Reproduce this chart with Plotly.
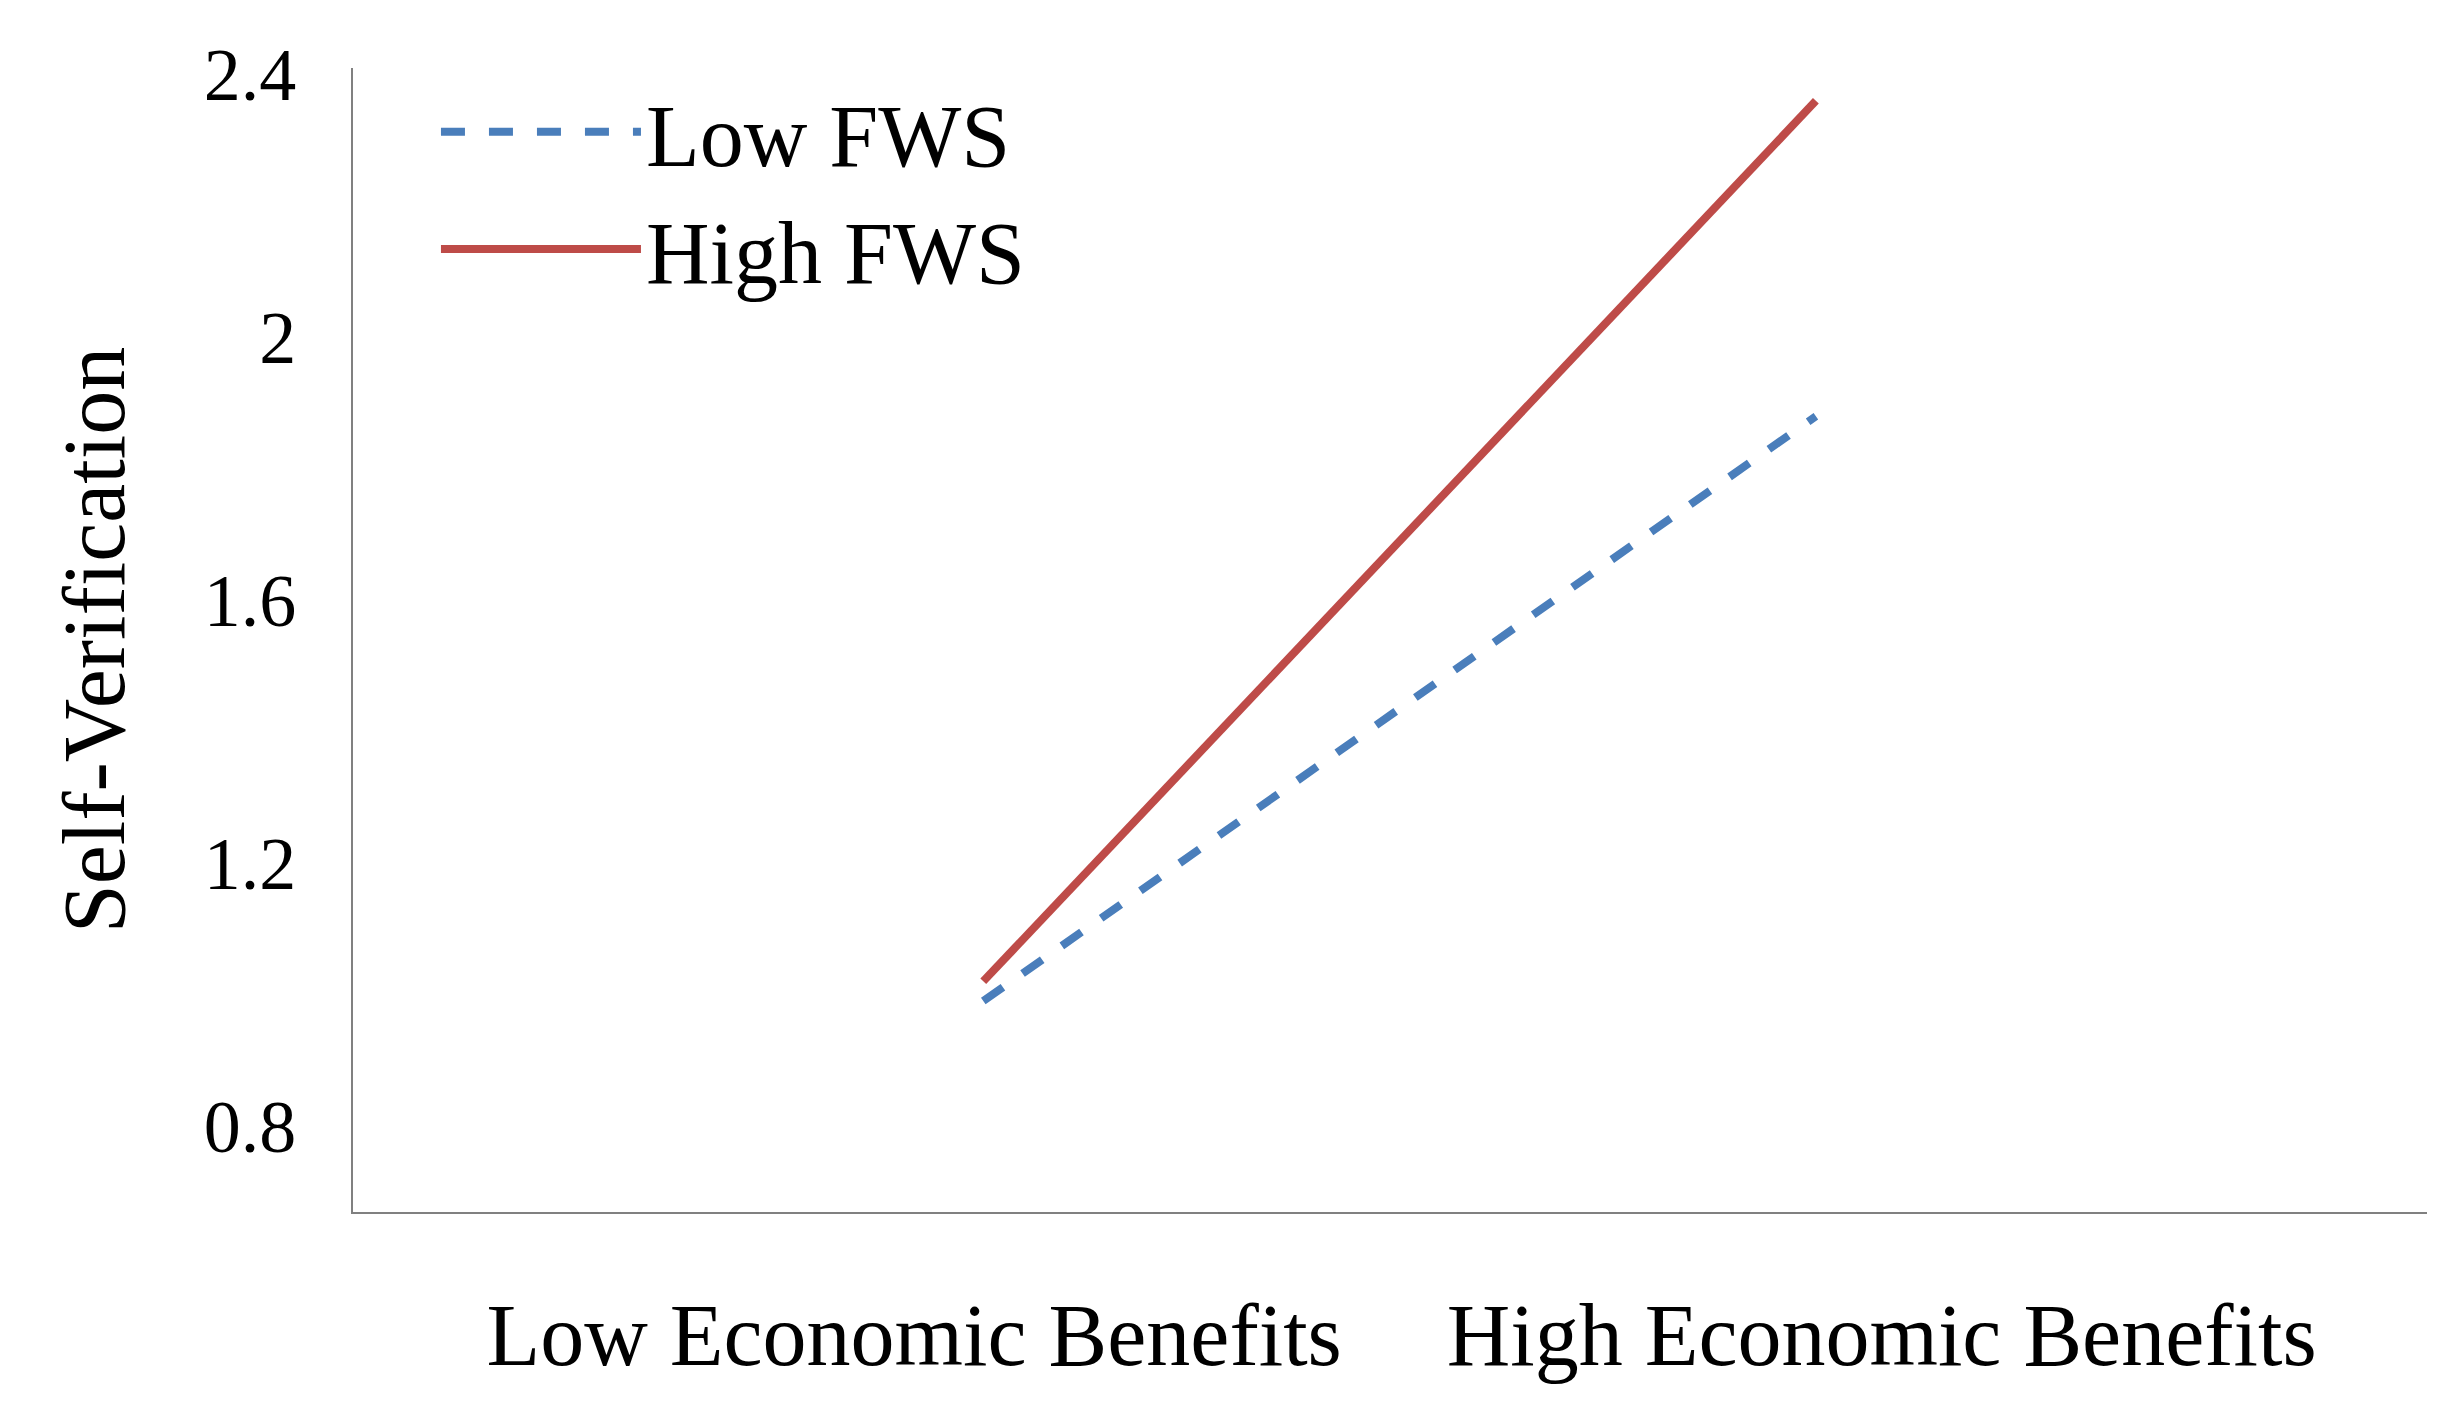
import plotly.graph_objects as go

categories = ["Low Economic Benefits", "High Economic Benefits"]
low_fws = [0.99, 1.88]
high_fws = [1.02, 2.36]

x_pos = [0, 1]
font = "Liberation Serif"

fig = go.Figure()
fig.add_trace(go.Scatter(x=x_pos, y=low_fws, mode="lines", name="Low FWS",
                         line=dict(color="#4a7ebb", width=8, dash="dash")))
fig.add_trace(go.Scatter(x=x_pos, y=high_fws, mode="lines", name="High FWS",
                         line=dict(color="#be4b48", width=8)))

fig.update_layout(
    width=2446, height=1409,
    margin=dict(l=345, r=27, t=60, b=205),
    plot_bgcolor="white", paper_bgcolor="white",
    font=dict(family=font, size=74, color="black"),
    legend=dict(x=0.04, y=1.0, xanchor="left", yanchor="top",
                font=dict(size=88), bgcolor="rgba(0,0,0,0)",
                itemwidth=200, tracegroupgap=20),
)
fig.update_xaxes(range=[-0.757, 1.734], tickvals=[-0.083, 1.079], ticktext=categories,
                 showgrid=False, zeroline=False, showline=True, linecolor="#808080",
                 linewidth=2, ticks="", tickfont=dict(size=88), ticklabelstandoff=45)
fig.update_yaxes(range=[0.669, 2.41], tickvals=[0.8, 1.2, 1.6, 2.0, 2.4],
                 ticktext=["0.8", "1.2", "1.6", "2", "2.4"],
                 showgrid=False, zeroline=False, showline=True, linecolor="#808080",
                 linewidth=2, ticks="", tickfont=dict(size=74), ticklabelstandoff=40,
                 title=dict(text="Self-Verification", font=dict(size=88), standoff=50))

fig.write_html("out.html")
